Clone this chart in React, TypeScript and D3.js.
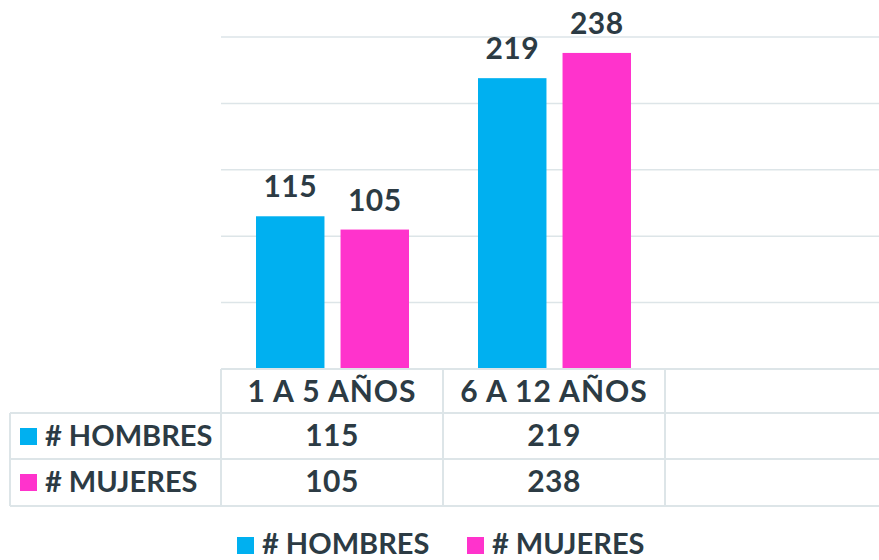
import * as d3 from 'd3';
import { useEffect, useRef } from 'react';

const categories = ['1 A 5 AÑOS', '6 A 12 AÑOS', ''];
const seriesNames = ['# HOMBRES', '# MUJERES'];
const hombres = [115, 219, null];
const mujeres = [105, 238, null];
const yTicks = [0, 50, 100, 150, 200, 250];

const colors = ['#00b0f0', '#ff33cc'];
const textColor = '#2c3b44';
const gridColor = '#dde5e8';
const font = 'Lato, "Open Sans", sans-serif';

const App = () => {
  const svgRef = useRef<SVGSVGElement | null>(null);

  useEffect(() => {
    const svg = d3.select(svgRef.current);
    svg.selectAll('*').remove();
    const width = 879;
    const plotLeft = 221;
    const plotTop = 37;
    const plotBottom = 369;

    const values = [hombres, mujeres];

    const x0 = d3.scaleBand<string>()
      .domain(categories.map((c, i) => String(i)))
      .range([plotLeft, plotLeft + 222 * 3])
      .padding(0);

    const x1 = d3.scaleBand<string>()
      .domain(seriesNames)
      .range([35, x0.bandwidth() - 34])
      .paddingInner(0.19);

    const y = d3.scaleLinear()
      .domain([0, 250])
      .range([plotBottom, plotTop]);

    // gridlines
    svg.append('g')
      .selectAll('line')
      .data(yTicks.slice(1))
      .enter()
      .append('line')
      .attr('x1', plotLeft)
      .attr('x2', width)
      .attr('y1', d => y(d))
      .attr('y2', d => y(d))
      .attr('stroke', gridColor)
      .attr('stroke-width', 1.5);

    // bars + labels
    seriesNames.forEach((s, si) => {
      const data = values[si]
        .map((v, i) => ({ v, i }))
        .filter(d => d.v !== null) as { v: number; i: number }[];
      const g = svg.append('g');
      g.selectAll('rect')
        .data(data)
        .enter()
        .append('rect')
        .attr('x', d => x0(String(d.i))! + x1(s)!)
        .attr('y', d => y(d.v))
        .attr('width', x1.bandwidth())
        .attr('height', d => y(0) - y(d.v))
        .attr('fill', colors[si]);
      g.selectAll('text')
        .data(data)
        .enter()
        .append('text')
        .attr('x', d => x0(String(d.i))! + x1(s)! + x1.bandwidth() / 2)
        .attr('y', d => y(d.v) - 19)
        .attr('text-anchor', 'middle')
        .attr('font-family', font)
        .attr('font-weight', 700)
        .attr('font-size', 30)
        .attr('letter-spacing', 0.5)
        .attr('fill', textColor)
        .text(d => d.v);
    });

    // data table
    const rowYs = [369, 413, 459, 506];
    const leftEdge = 10;
    const t = svg.append('g').attr('stroke', gridColor).attr('stroke-width', 2);
    rowYs.forEach((ry, i) => {
      t.append('line')
        .attr('x1', i === 0 ? plotLeft : leftEdge)
        .attr('x2', width)
        .attr('y1', ry)
        .attr('y2', ry);
    });
    const colXs = categories.map((c, i) => x0(String(i))!);
    colXs.concat([x0(String(categories.length - 1))! + x0.bandwidth()]).forEach(cx => {
      t.append('line')
        .attr('x1', cx)
        .attr('x2', cx)
        .attr('y1', rowYs[0])
        .attr('y2', rowYs[3]);
    });
    t.append('line')
      .attr('x1', leftEdge)
      .attr('x2', leftEdge)
      .attr('y1', rowYs[1])
      .attr('y2', rowYs[3]);

    const txt = svg.append('g')
      .attr('font-family', font)
      .attr('font-weight', 700)
      .attr('font-size', 30)
      .attr('fill', textColor);

    categories.forEach((c, i) => {
      txt.append('text')
        .attr('x', x0(String(i))! + x0.bandwidth() / 2)
        .attr('y', 402)
        .attr('text-anchor', 'middle')
        .attr('letter-spacing', 1)
        .text(c);
    });
    const rowBase = [446, 492];
    seriesNames.forEach((s, si) => {
      svg.append('rect')
        .attr('x', 20)
        .attr('y', rowBase[si] - 18)
        .attr('width', 17)
        .attr('height', 17)
        .attr('fill', colors[si]);
      txt.append('text')
        .attr('x', 45)
        .attr('y', rowBase[si])
        .attr('font-size', 29)
        .text(s);
      values[si].forEach((v, i) => {
        if (v === null) return;
        txt.append('text')
          .attr('x', x0(String(i))! + x0.bandwidth() / 2)
          .attr('y', rowBase[si])
          .attr('text-anchor', 'middle')
          .attr('letter-spacing', 0.5)
          .text(v);
      });
    });

    // legend
    const legendX = [237, 467];
    seriesNames.forEach((s, si) => {
      svg.append('rect')
        .attr('x', legendX[si])
        .attr('y', 537)
        .attr('width', 17)
        .attr('height', 17)
        .attr('fill', colors[si]);
      txt.append('text')
        .attr('x', legendX[si] + 25)
        .attr('y', 554)
        .attr('font-size', 29)
        .text(s);
    });
  }, []);

  return (
    <svg
      ref={svgRef}
      width={879}
      height={560}
      style={{ position: 'absolute', left: 0, top: 0, background: '#fff' }}
    ></svg>
  );
};

export default App;
